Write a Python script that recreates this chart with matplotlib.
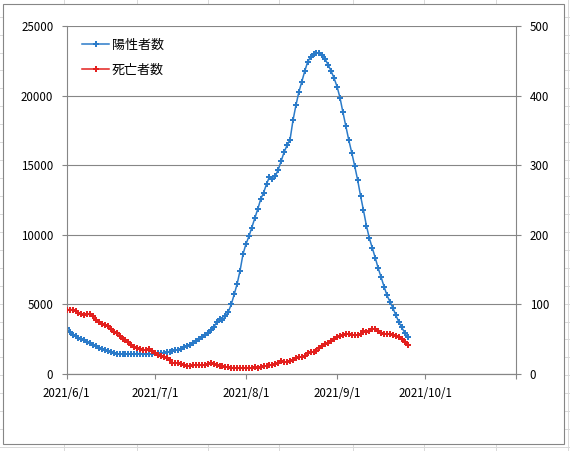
import numpy as np
import pandas as pd
import matplotlib
matplotlib.use('Agg')
import matplotlib.pyplot as plt
from matplotlib.lines import Line2D
from matplotlib.patches import Rectangle

plt.rcParams['font.family'] = ['Noto Sans CJK JP', 'DejaVu Sans']

# daily values from 2021/6/1
start_date = '2021-06-01'
positives = [3300, 3020, 2830, 2700, 2590, 2510, 2420, 2300, 2200, 2100,
             1990, 1870, 1790, 1700, 1630, 1570, 1510, 1460, 1430, 1425,
             1425, 1425, 1425, 1425, 1425, 1425, 1430, 1430, 1430, 1450,
             1480, 1500, 1520, 1540, 1570, 1610, 1650, 1700, 1760, 1830,
             1910, 2000, 2100, 2220, 2350, 2480, 2630, 2780, 2950, 3130,
             3350, 3700, 3980, 3880, 4150, 4470, 5000, 5714, 6476, 7429,
             8619, 9333, 9881, 10524, 11190, 11833, 12548, 13024, 13643, 14167,
             13976, 14214, 14690, 15310, 15952, 16429, 16833, 18214, 19300, 20250,
             21000, 21750, 22420, 22780, 22960, 23070, 23070, 22900, 22600, 22200,
             21750, 21250, 20650, 19850, 18800, 17800, 16800, 15900, 14950, 13950,
             12800, 11750, 10650, 9750, 9050, 8350, 7600, 6950, 6280, 5650,
             5200, 4750, 4230, 3750, 3350, 2980, 2640]
deaths = [92.5, 92.5, 92.5, 90.5, 87.5, 85.5, 84.5, 85.5, 86, 83,
          77, 74, 71.5, 70, 68.5, 64, 60.5, 58.5, 54, 51,
          48.5, 45.5, 42, 39, 37.5, 36.2, 35, 34.5, 35.5, 32.5,
          29.5, 27.5, 25.8, 24, 22.5, 19.5, 16, 15.5, 15.2, 14.5,
          13.5, 11.5, 12, 12.5, 12.5, 12.5, 12.5, 12.6, 14, 15.8,
          14.5, 13, 12.2, 11.5, 10.5, 9.5, 9.2, 9, 8.8, 8.7,
          8.6, 8.5, 8.5, 8.5, 9.5, 9, 10.3, 11.2, 11.8, 12.3,
          13, 14, 16.5, 18.5, 17, 17.5, 18, 20.5, 23.5, 24.3,
          25, 26.3, 30.5, 32, 31, 32.5, 37, 40.5, 42.5, 44.5,
          47, 50, 53.5, 55, 56, 57.5, 58, 56.5, 55.5, 56.5,
          58, 61.5, 60, 62.5, 64.5, 64.5, 62, 59.5, 57, 57.5,
          58, 56.5, 54.5, 53, 50, 46.5, 42]
series_names = ['陽性者数', '死亡者数']
tick_dates = ['2021-06-01', '2021-07-01', '2021-08-01', '2021-09-01', '2021-10-01', '2021-11-01']
tick_labels = ['2021/6/1', '2021/7/1', '2021/8/1', '2021/9/1', '2021/10/1', '']

dates = pd.date_range(start_date, periods=len(positives), freq='D')

W, H = 570, 451
fig = plt.figure(figsize=(W / 100, H / 100), dpi=100)

# spreadsheet cells behind the chart
cell_col = '#d9d9d9'
for xc in [64.3, 136.7, 208.3, 279.3, 352.7, 424.3, 496.0, 567.7]:
    fig.add_artist(Line2D([xc / W, xc / W], [0, 1], color=cell_col, lw=0.7, zorder=-3))
for yc in np.arange(16.7, 451, 17.93):
    fig.add_artist(Line2D([0, 1], [1 - yc / H, 1 - yc / H], color=cell_col, lw=0.7, zorder=-3))
fig.add_artist(Rectangle((3 / W, 1 - 444 / H), 561 / W, 440 / H, facecolor='white',
                         edgecolor='#868686', lw=0.8, zorder=-2))

grey = '#868686'
blue = '#2B7BC9'
red = '#E3201E'

ax = fig.add_axes([66.7 / W, 1 - 374 / H, (516.3 - 66.7) / W, (374 - 26) / H])
ax.patch.set_visible(False)
ax2 = ax.twinx()

l1, = ax.plot(dates, positives, color=blue, lw=1.1, marker='P', ms=4, mew=0, label=series_names[0])
l2, = ax2.plot(dates, deaths, color=red, lw=1.1, marker='P', ms=4, mew=0, label=series_names[1])

ax.set_xlim(pd.Timestamp(tick_dates[0]), pd.Timestamp(tick_dates[-1]))
ax.set_ylim(0, 25000)
ax2.set_ylim(0, 500)
ax.set_yticks(np.arange(0, 25001, 5000))
ax2.set_yticks(np.arange(0, 501, 100))
ax.set_xticks([pd.Timestamp(d) for d in tick_dates])
ax.set_xticklabels(tick_labels)

ax.grid(axis='y', color=grey, lw=0.8)
ax.set_axisbelow(True)
for a in (ax, ax2):
    for s in a.spines.values():
        s.set_color(grey)
        s.set_linewidth(0.8)
    a.spines['top'].set_visible(False)
    a.tick_params(length=3.6, width=0.8, color=grey, labelsize=8.3, pad=6, labelcolor='black')
ax.spines['right'].set_visible(False)
ax2.spines['left'].set_visible(False)

leg = ax2.legend(handles=[l1, l2], loc='upper left', bbox_to_anchor=(82 / W, 1 - 39 / H),
                 bbox_transform=fig.transFigure, frameon=False, borderpad=0, borderaxespad=0,
                 handlelength=2.1, handletextpad=0.2, labelspacing=0.9, fontsize=9.4)

fig.savefig('out.png', dpi=100)
